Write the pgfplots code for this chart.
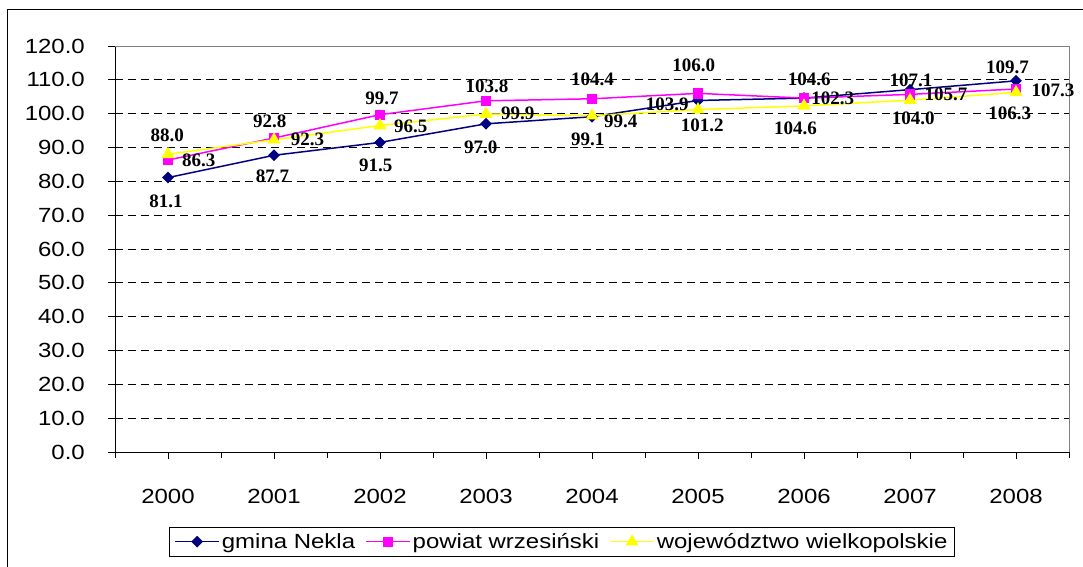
\documentclass[border=0pt]{standalone}
\usepackage{pgfplots}
\pgfplotsset{compat=1.18}
\usepackage{fontspec}
\setmainfont[FakeStretch=1.17]{Liberation Sans}
\newfontfamily\labfont{Liberation Serif}
\definecolor{navy}{RGB}{0,0,128}
\definecolor{mag}{RGB}{255,0,255}
\definecolor{yel}{RGB}{255,255,0}
\pgfplotstableread{
x y lab
-0.02 74.0 81.1
0.985 81.4 87.7
1.96 84.8 91.5
2.95 90.2 97.0
3.96 92.5 99.1
4.71 102.9 103.9
6.05 110.2 104.6
7.01 109.8 107.1
7.92 113.7 109.7
0.29 86.1 86.3
0.96 97.6 92.8
2.02 104.6 99.7
3.01 108.0 103.8
4.005 110.2 104.4
4.96 114.2 106.0
6.27 104.6 102.3
7.34 105.7 105.7
8.35 107.0 107.3
-0.006 93.7 88.0
1.316 92.4 92.3
2.29 96.4 96.5
3.30 100.1 99.9
4.27 97.6 99.4
5.04 96.7 101.2
5.92 95.7 104.6
7.03 98.6 104.0
7.94 100.1 106.3
}\labels
\begin{document}
\begin{tikzpicture}
\useasboundingbox (-115pt,-114pt) rectangle (968pt,452pt);
\draw[black, line width=1pt] (-107pt,-140pt) rectangle (990pt,442pt);
\begin{axis}[
  at={(0pt,0pt)}, anchor=south west,
  scale only axis, width=954pt, height=406pt,
  xmin=-0.5, xmax=8.5, ymin=0, ymax=120,
  clip=false,
  axis x line*=bottom, axis y line*=left,
  axis line style={black, line width=0.9pt, -},
  xtick={0,1,2,3,4,5,6,7,8},
  xticklabels={2000,2001,2002,2003,2004,2005,2006,2007,2008},
  minor xtick={-0.5,0.5,1.5,2.5,3.5,4.5,5.5,6.5,7.5,8.5},
  ytick={0,10,20,30,40,50,60,70,80,90,100,110,120},
  yticklabels={0.0,10.0,20.0,30.0,40.0,50.0,60.0,70.0,80.0,90.0,100.0,110.0,120.0},
  tick align=outside, major tick length=7pt, minor tick length=6pt,
  tick style={black, line width=0.8pt},
  minor tick style={black, line width=0.8pt},
  ymajorgrids, grid style={black, dash pattern=on 8pt off 5pt, line width=0.8pt},
  ticklabel style={font=\fontsize{20.5}{24}\selectfont},
  yticklabel style={anchor=east, inner sep=0pt, xshift=-23pt},
  xticklabel style={anchor=north, inner sep=0pt, yshift=-30pt},
  legend style={at={(0.0566,-0.1847)}, anchor=north west, draw=black, line width=0.8pt,
    font=\fontsize{20.5}{24}\selectfont, legend columns=3, inner xsep=5pt, inner ysep=4pt,
    /tikz/every even column/.append style={column sep=8pt}},
  legend image code/.code={\draw[mark repeat=2, mark phase=2, #1, line width=1.5pt] plot coordinates {(0pt,0pt) (22pt,0pt) (44pt,0pt)};},
]
\addplot[navy, line width=1.5pt, mark=square*, mark size=3.4pt, mark options={rotate=45, solid, fill=navy}]
  coordinates {(0,81.1) (1,87.7) (2,91.5) (3,97.0) (4,99.1) (5,103.9) (6,104.6) (7,107.1) (8,109.7)};
\addlegendentry{gmina Nekla}
\addplot[mag, line width=1.5pt, mark=square*, mark size=4.4pt, mark options={solid, fill=mag}]
  coordinates {(0,86.3) (1,92.8) (2,99.7) (3,103.8) (4,104.4) (5,106.0) (6,104.6) (7,105.7) (8,107.3)};
\addlegendentry{powiat wrzesiński}
\addplot[yel, line width=1.5pt, mark=triangle*, mark size=6pt, mark options={solid, fill=yel}]
  coordinates {(0,88.0) (1,92.3) (2,96.5) (3,99.9) (4,99.4) (5,101.2) (6,102.3) (7,104.0) (8,106.3)};
\addlegendentry{województwo wielkopolskie}
\addplot[forget plot, draw=none, mark=none, nodes near coords, point meta=explicit symbolic,
  nodes near coords style={anchor=center, inner sep=0pt, text=black, font=\labfont\bfseries\fontsize{19}{22}\selectfont}]
  table[x=x, y=y, meta=lab] {\labels};
\draw[gray, line width=1pt] (rel axis cs:0,1) -- (rel axis cs:1,1) -- (rel axis cs:1,0);
\end{axis}
\end{tikzpicture}
\end{document}
